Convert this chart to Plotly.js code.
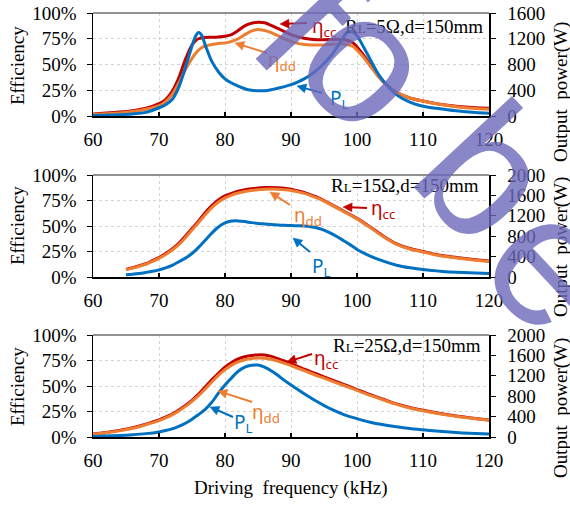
<!DOCTYPE html>
<html><head><meta charset="utf-8">
<script src="https://cdn.plot.ly/plotly-3.0.1.min.js"></script>
<style>html,body{margin:0;padding:0;background:#fff}</style>
</head><body><div id="chart" style="width:570px;height:506px"></div>
<script>
// ---------- DATA ----------
// Top panel: RL = 5 ohm
const freqTop = [60,62,64,66,68,70,71,72,73,74,75,75.5,76,76.5,77,78,79,80,81,82,83,84,85,86,87,88,89,90,91,92,93,94,95,96,97,98,98.5,99,99.5,100,101,102,103,104,105,106,108,110,112,115,118,120];
const etaCcTop = [2,2.8,3.8,5.2,7.5,12,16,24,37,55,69,73,75,76,76.3,76.5,76.8,77.5,79,83,87.5,90,91,90.5,88,85,82,79,77,75.5,74.5,74,74,74.3,74.5,74,73.5,72.5,70.5,67,59,50,41,33,27.5,23,17.5,14.5,12,9.5,8,7.5];
const etaDdTop = [1.5,2.2,3,4.3,6.5,10,14,21,32,45,56,60.5,64,66.5,68,69.5,70.5,71,72.5,75,79,82.5,84,83,81,78,75,72.5,70.5,69.5,69,69,69,69.5,70,70,69.5,68.5,67,64,57,48.5,40,33,27.5,23,17.5,14.5,11.8,9,7.2,6.5];
const powerTop = [8,13,19,32,56,128,176,256,448,752,1088,1232,1296,1248,1104,848,688,576,512,464,424,400,392,392,408,432,456,488,528,576,640,720,816,928,1072,1232,1296,1312,1296,1248,1072,880,688,544,432,328,216,152,120,80,53,42];

// Middle panel: RL = 15 ohm
const freqMid = [65,66,67,68,69,70,71,72,73,74,75,76,77,78,79,80,81,82,83,84,85,86,87,88,89,90,91,92,93,94,95,96,97,98,99,100,102,104,106,108,110,112,114,116,118,120];
const etaCcMid = [7.5,9,11,13,16,19,23,27.5,33,40,47.5,55,63,70,75.5,79.5,82,84,85.5,86.5,87.3,87.7,87.8,87.5,87,86,84.5,83,80.5,78,75,71.5,68,64.5,61,57.5,49,40,32.5,28,25,22,20,18.5,17,15.7];
const etaDdMid = [7.3,8.7,10.5,12.5,15.3,18.3,22,26.5,31.8,38.5,46,53.5,61,68,73.5,77.5,80.3,82.3,83.8,84.8,85.5,86,86.2,86,85.6,84.8,83.5,82,79.7,77.3,74.4,71,67.5,64,60.5,57,48.5,39.5,32,27.5,24.5,21.5,19.5,18,16.5,15.2];
const powerMid = [46,56,70,90,112,140,180,230,300,370,460,580,720,860,980,1060,1096,1100,1086,1066,1050,1040,1030,1020,1014,1010,1004,1000,986,960,920,860,790,710,630,540,410,310,230,180,146,120,100,86,78,70];

// Bottom panel: RL = 25 ohm
const freqBot = [60,62,64,66,68,70,71,72,73,74,75,76,77,78,79,80,81,82,83,84,85,86,87,88,89,90,92,94,96,98,100,102,104,106,108,110,112,114,116,118,120];
const etaCcBot = [3,4.5,6.5,9,12.5,16.7,19.5,22.5,26.5,31,36,42,49,56,62.5,68.5,73,76.5,78.7,80,80.5,80.3,79,76.8,74.5,72,66.5,61.5,56.5,51.5,46.5,41.5,37,32.5,29,26.3,23.8,21.6,19.8,18.2,16.7];
const etaDdBot = [2.7,4.1,6,8.5,12,16,18.7,21.7,25.5,30,35,40.5,47,54,60.5,66,70.5,73.7,75.8,77,77.5,77.3,76.3,74.5,72.3,70,65,60,55.3,50.5,45.7,40.8,36.3,32,28.5,25.8,23.3,21.2,19.4,17.8,16.3];
const powerBot = [10,18,28,44,66,100,126,160,210,270,350,440,540,680,860,1020,1160,1290,1370,1406,1410,1370,1300,1210,1110,1020,850,690,550,440,360,290,240,200,166,140,116,96,80,68,60];

const xTicks = [60,70,80,90,100,110,120];
const effTicks = [0,25,50,75,100];
const effTickText = ['0%','25%','50%','75%','100%'];
const powerTicksTop = [0,400,800,1200,1600];
const powerTicks = [0,400,800,1200,1600,2000];
const panelLabels = ["R<span style='font-size:13px'>L</span>=5Ω,d=150mm",
                     "R<span style='font-size:13px'>L</span>=15Ω,d=150mm",
                     "R<span style='font-size:13px'>L</span>=25Ω,d=150mm"];
const watermarkLetters = ["f","o","b","e"];

// ---------- STYLE ----------
const RED = '#C00000', ORANGE = '#ED7D31', BLUE = '#0070C0';
const SERIF = 'Liberation Serif';
const SANS = 'Noto Sans';
const W = 570, H = 506, L = 93, R = 81, T = 13, B = 69;
const pw = W - L - R, ph = H - T - B;
const px = x => (x - L) / pw;
const py = y => (H - B - y) / ph;

function line(x, y, color, xa, ya, name) {
  return {x: x, y: y, xaxis: xa, yaxis: ya, type: 'scatter', mode: 'lines', name: name,
          line: {color: color, width: 3, shape: 'spline', smoothing: 0.7}, hoverinfo: 'skip'};
}
const data = [
  line(freqBot, etaCcBot, RED, 'x', 'y', 'ηcc'),
  line(freqBot, etaDdBot, ORANGE, 'x', 'y', 'ηdd'),
  line(freqBot, powerBot, BLUE, 'x', 'y2', 'PL'),
  line(freqMid, etaCcMid, RED, 'x2', 'y3', 'ηcc'),
  line(freqMid, etaDdMid, ORANGE, 'x2', 'y3', 'ηdd'),
  line(freqMid, powerMid, BLUE, 'x2', 'y4', 'PL'),
  line(freqTop, etaCcTop, RED, 'x3', 'y5', 'ηcc'),
  line(freqTop, etaDdTop, ORANGE, 'x3', 'y5', 'ηdd'),
  line(freqTop, powerTop, BLUE, 'x3', 'y6', 'PL')
];

const tf = () => ({family: SERIF, size: 19, color: '#000'});
function xAxis(anchor) {
  return {range: [60, 120], tickmode: 'array', tickvals: xTicks, anchor: anchor, ticks: 'inside', ticklen: 4,
          tickcolor: '#000', tickwidth: 1.2, showline: true, linecolor: '#000', linewidth: 1.5,
          showgrid: true, gridcolor: '#d4d4d4', griddash: 'dot', gridwidth: 1, zeroline: false,
          tickfont: tf(), ticklabelstandoff: 6, fixedrange: true};
}
function yLeft(domain, anchor) {
  return {domain: domain, anchor: anchor, range: [0, 100], tickmode: 'array', tickvals: effTicks, ticktext: effTickText,
          ticks: 'outside', ticklen: 5, tickcolor: '#000', showline: true, linecolor: '#000', linewidth: 1.5,
          showgrid: true, gridcolor: '#d4d4d4', griddash: 'dot', zeroline: false,
          tickfont: tf(), ticklabelstandoff: 6, fixedrange: true};
}
function yRight(over, anchor, maxv, ticks) {
  return {overlaying: over, anchor: anchor, side: 'right', range: [0, maxv], tickmode: 'array', tickvals: ticks,
          ticks: 'outside', ticklen: 5, tickcolor: '#000', showline: true, linecolor: '#000', linewidth: 1.5,
          showgrid: false, zeroline: false, tickfont: tf(), ticklabelstandoff: 8, fixedrange: true};
}

const domBot = [0, py(335)], domMid = [py(277), py(175)], domTop = [py(116), 1];

const ann = [];
const shapes = [];
function txt(text, x, y, color, size, opts) {
  ann.push(Object.assign({text: text, xref: 'paper', yref: 'paper', x: px(x), y: py(y),
    showarrow: false, xanchor: 'center', yanchor: 'middle',
    font: {family: SANS, size: size || 19, color: color}}, opts || {}));
}
function arrow(hx, hy, tx, ty, color) {
  const dx = hx - tx, dy = hy - ty, len = Math.hypot(dx, dy);
  const ux = dx / len, uy = dy / len, nx = -uy, ny = ux;
  const hl = 9, hw = 4.5;
  const bx = hx - ux * hl, by = hy - uy * hl;
  shapes.push({type: 'line', xref: 'paper', yref: 'paper', x0: px(tx), y0: py(ty), x1: px(bx + ux * 2), y1: py(by + uy * 2),
    line: {color: color, width: 2}});
  const p = [[hx, hy], [bx + nx * hw, by + ny * hw], [bx - nx * hw, by - ny * hw]];
  shapes.push({type: 'path', xref: 'paper', yref: 'paper',
    path: 'M' + p.map(q => px(q[0]) + ',' + py(q[1])).join('L') + 'Z',
    fillcolor: color, line: {color: color, width: 0.5}});
}
const serifFont = {family: SERIF, size: 19, color: '#000'};
// panel labels
txt(panelLabels[0], 485, 26, '#000', 19, {xanchor: 'right', font: serifFont});
txt(panelLabels[1], 481, 185, '#000', 19, {xanchor: 'right', font: serifFont});
txt(panelLabels[2], 483, 345, '#000', 19, {xanchor: 'right', font: serifFont});
// axis titles
[66, 226, 387].forEach(y => txt('Efficiency', 17, y, '#000', 19, {textangle: -90, font: serifFont}));
[92, 247, 408].forEach(y => txt('Output  power(W)', 561, y, '#000', 19, {textangle: -90, font: serifFont}));
txt('Driving  frequency (kHz)', 291, 488, '#000', 19, {font: serifFont});
// curve labels top
txt('η<sub>cc</sub>', 324, 27, RED); arrow(280, 24, 307, 23, RED);
txt('η<sub>dd</sub>', 282, 61, ORANGE); arrow(235, 43, 267, 53, ORANGE);
txt('P<sub>L</sub>', 339, 99, BLUE); arrow(297, 86, 322, 93, BLUE);
// middle
txt('η<sub>dd</sub>', 308, 216, ORANGE); arrow(270, 192, 290, 205, ORANGE);
txt('η<sub>cc</sub>', 383, 209, RED); arrow(343, 207, 367, 208, RED);
txt('P<sub>L</sub>', 321, 267, BLUE); arrow(293, 238, 310, 252, BLUE);
// bottom
txt('η<sub>cc</sub>', 326, 359, RED); arrow(287, 362, 312, 354, RED);
txt('η<sub>dd</sub>', 266, 413, ORANGE); arrow(218, 391, 252, 402, ORANGE);
txt('P<sub>L</sub>', 243, 423, BLUE); arrow(210, 407, 233, 417, BLUE);
// top box lines (grey)
[13, 175, 335].forEach(y => shapes.push({type: 'line', xref: 'paper', yref: 'paper', x0: 0, x1: 1,
  y0: py(y), y1: py(y), line: {color: '#6e6e6e', width: 1.5}}));
// watermark letters
const wmPos = [[309, 22], [369, 61], [487, 172], [555, 263]];
watermarkLetters.forEach((c, i) => ann.push({text: c, xref: 'paper', yref: 'paper',
  x: px(wmPos[i][0]), y: py(wmPos[i][1]), showarrow: false, xanchor: 'center', yanchor: 'middle',
  textangle: 47, font: {family: 'Liberation Sans', size: 185, color: 'rgba(109,105,186,0.8)'}}));

const layout = {
  width: W, height: H, margin: {l: L, r: R, t: T, b: B}, autosize: false,
  font: {family: SERIF, size: 19, color: '#000'},
  paper_bgcolor: '#fff', plot_bgcolor: '#fff', showlegend: false,
  xaxis: xAxis('y'), xaxis2: xAxis('y3'), xaxis3: xAxis('y5'),
  yaxis: yLeft(domBot, 'x'), yaxis2: yRight('y', 'x', 2000, powerTicks),
  yaxis3: yLeft(domMid, 'x2'), yaxis4: yRight('y3', 'x2', 2000, powerTicks),
  yaxis5: yLeft(domTop, 'x3'), yaxis6: yRight('y5', 'x3', 1600, powerTicksTop),
  annotations: ann, shapes: shapes
};
Plotly.newPlot('chart', data, layout, {staticPlot: true, displayModeBar: false});
</script></body></html>
